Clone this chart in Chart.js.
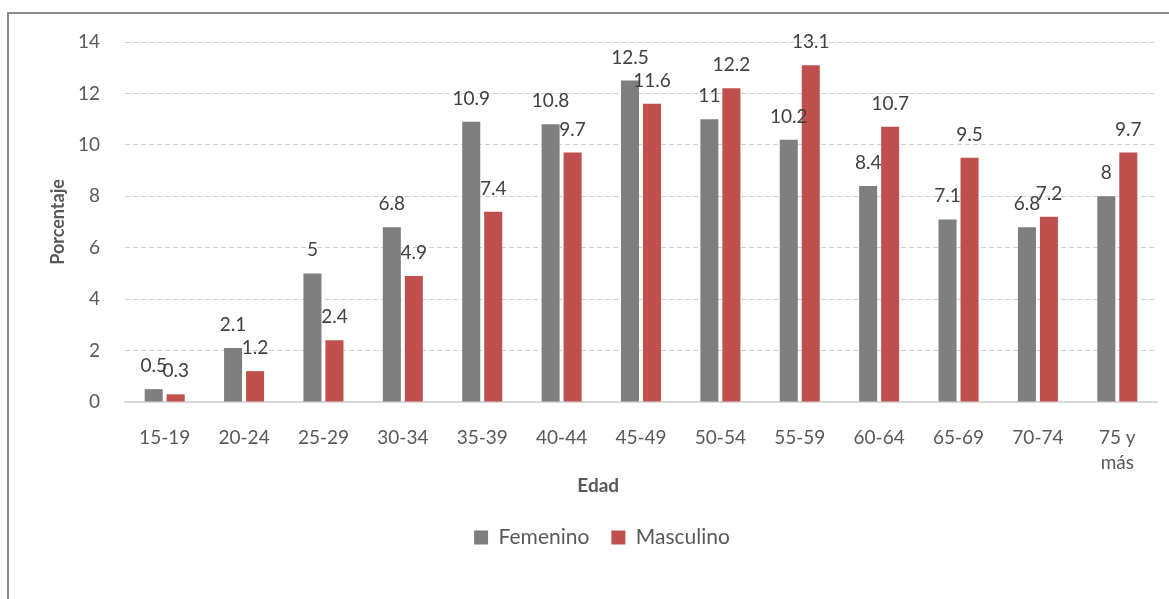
<!DOCTYPE html>
<html>
<head>
<meta charset="utf-8">
<script src="https://cdn.jsdelivr.net/npm/chart.js@4/dist/chart.umd.min.js"></script>
<style>
  html, body { margin: 0; padding: 0; background: #fff; }
  #wrap { position: relative; width: 1169px; height: 599px; }
  #frame { position: absolute; left: 7px; top: 12px; right: 0; bottom: 0;
           border-top: 2px solid #8c8c8c; border-left: 2px solid #8c8c8c; }
  canvas { position: absolute; left: 0; top: 0; }
</style>
</head>
<body>
<div id="wrap">
  <div id="frame"></div>
  <canvas id="chart" width="1169" height="599"></canvas>
</div>
<script>
const ageGroups = ['15-19', '20-24', '25-29', '30-34', '35-39', '40-44', '45-49',
                   '50-54', '55-59', '60-64', '65-69', '70-74', ['75 y', 'más']]
const femenino = [0.5, 2.1, 5, 6.8, 10.9, 10.8, 12.5, 11, 10.2, 8.4, 7.1, 6.8, 8]
const masculino = [0.3, 1.2, 2.4, 4.9, 7.4, 9.7, 11.6, 12.2, 13.1, 10.7, 9.5, 7.2, 9.7]

const fontFamily = 'Lato, "Open Sans", sans-serif'
const textColor = '#595959'

// draws the value above each bar, like the spreadsheet data labels
const barLabels = {
    id: 'barLabels',
    afterDatasetsDraw(chart) {
        const ctx = chart.ctx
        ctx.save()
        ctx.font = '19px ' + fontFamily
        ctx.fillStyle = '#404040'
        ctx.textAlign = 'center'
        ctx.textBaseline = 'alphabetic'
        chart.data.datasets.forEach((ds, i) => {
            chart.getDatasetMeta(i).data.forEach((bar, j) => {
                ctx.fillText(String(ds.data[j]), bar.x, bar.y - 17)
            })
        })
        ctx.restore()
    }
}

new Chart(document.getElementById('chart'), {
    type: 'bar',
    data: {
        labels: ageGroups,
        datasets: [
            { label: 'Femenino', data: femenino, backgroundColor: '#7f7f7f' },
            { label: 'Masculino', data: masculino, backgroundColor: '#c0504d' },
        ],
    },
    options: {
        responsive: false,
        animation: false,
        layout: { padding: { left: 47, right: 12, top: 42, bottom: 41 } },
        datasets: { bar: { categoryPercentage: 0.554, barPercentage: 0.82 } },
        plugins: {
            legend: {
                position: 'bottom',
                labels: {
                    font: { family: fontFamily, size: 21 },
                    color: textColor,
                    boxWidth: 14,
                    boxHeight: 14,
                    padding: 22,
                },
            },
            tooltip: { enabled: false },
        },
        scales: {
            x: {
                afterFit(scale) { scale.height = 103 },
                grid: { display: false, drawTicks: false },
                border: { color: '#d9d9d9', width: 2 },
                ticks: {
                    font: { family: fontFamily, size: 19, lineHeight: 1.3 },
                    color: textColor,
                    padding: 24,
                    maxRotation: 0,
                    autoSkip: false,
                },
                title: {
                    display: true,
                    // trailing en spaces pull the centred title left, as in the original
                    text: 'Edad' + '\u2002'.repeat(9),
                    font: { family: fontFamily, size: 19, weight: 'bold' },
                    color: textColor,
                    padding: { top: 0, bottom: 8 },
                },
            },
            y: {
                afterFit(scale) { scale.width = 78 },
                min: 0,
                max: 14,
                grid: { color: '#d0d0d0', lineWidth: 1, drawTicks: false },
                border: { display: false, dash: [5, 3] },
                ticks: {
                    stepSize: 2,
                    font: { family: fontFamily, size: 19 },
                    color: textColor,
                    padding: 25,
                },
                title: {
                    display: true,
                    text: 'Porcentaje',
                    font: { family: fontFamily, size: 18, weight: 'bold' },
                    color: textColor,
                    padding: { top: 0, bottom: 0 },
                },
            },
        },
    },
    plugins: [barLabels],
})
</script>
</body>
</html>
